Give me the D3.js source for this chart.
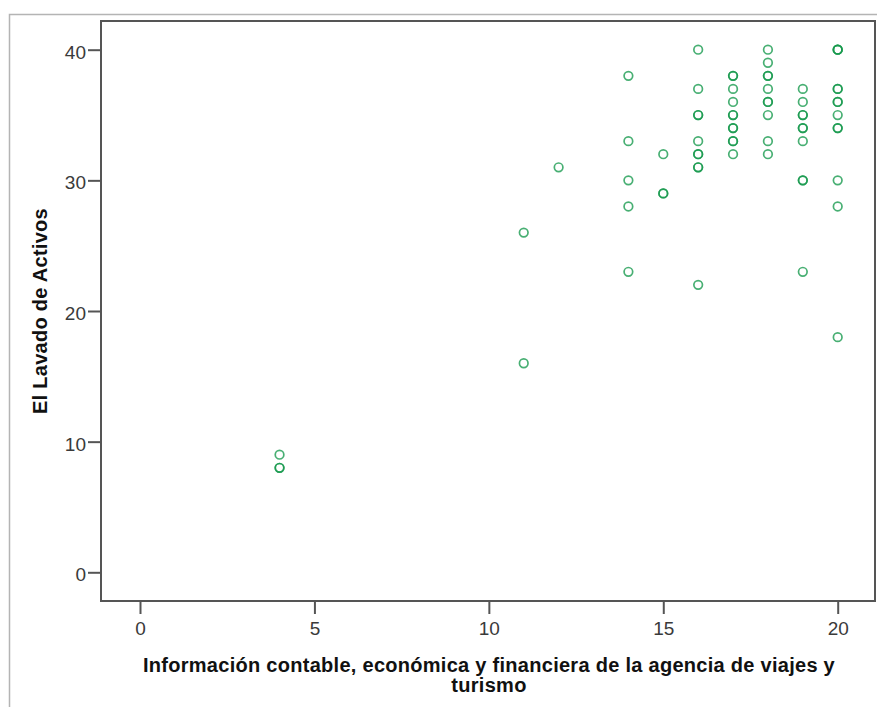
<!DOCTYPE html>
<html><head><meta charset="utf-8">
<script src="https://cdn.jsdelivr.net/npm/d3@7"></script>
<style>body{margin:0;background:#fff}svg{display:block}</style>
</head><body>
<script>
// Data: x = Información contable..., y = El Lavado de Activos (duplicates listed repeatedly)
const xValues = [4,4,4, 11,11, 12, 14,14,14,14,14, 15,15,15,
  16,16,16,16,16,16,16,16,16,16,
  17,17,17,17,17,17,17,17,17,17,17,
  18,18,18,18,18,18,18,18,18,18,
  19,19,19,19,19,19,19,19,19,19,
  20,20,20,20,20,20,20,20,20,20,20,20,20];
const yValues = [9,8,8, 26,16, 31, 38,33,30,28,23, 32,29,29,
  40,37,35,35,33,32,32,31,31,22,
  38,38,37,36,35,35,34,34,33,33,32,
  40,39,38,38,37,36,36,35,33,32,
  37,36,35,35,34,34,33,30,30,23,
  40,40,40,37,37,36,36,35,34,34,30,28,18];
const xTicks = [0,5,10,15,20];
const yTicks = [0,10,20,30,40];
const xTitleLines = ["Información contable, económica y financiera de la agencia de viajes y","turismo"];
const yTitle = "El Lavado de Activos";

const W = 877, H = 707;
const svg = d3.select("body").append("svg").attr("width", W).attr("height", H);

// outer frame
svg.append("rect").attr("x", 9.5).attr("y", 14.5).attr("width", 900).attr("height", 720)
  .attr("fill", "none").attr("stroke", "#b4b4b4").attr("stroke-width", 1.5);

const plot = {left: 101, top: 21, right: 875, bottom: 601};
const x = d3.scaleLinear().domain([0, 20]).range([140, 837.7]);
const y = d3.scaleLinear().domain([0, 40]).range([572.3, 49.7]);

// plot frame
svg.append("rect").attr("x", plot.left).attr("y", plot.top)
  .attr("width", plot.right - plot.left).attr("height", plot.bottom - plot.top)
  .attr("fill", "none").attr("stroke", "#555").attr("stroke-width", 2);

const font = "'Liberation Sans', Arial, sans-serif";

const yAxis = svg.append("g").attr("transform", `translate(${plot.left},0)`)
  .call(d3.axisLeft(y).tickValues(yTicks).tickSize(13).tickPadding(2));
const xAxis = svg.append("g").attr("transform", `translate(0,${plot.bottom})`)
  .call(d3.axisBottom(x).tickValues(xTicks).tickSize(13).tickPadding(8));
[xAxis, yAxis].forEach(a => {
  a.select(".domain").remove();
  a.selectAll(".tick line").attr("stroke", "#555").attr("stroke-width", 2);
  a.selectAll(".tick text").attr("fill", "#3a3a3a").style("font-family", font).style("font-size", "19px");
});
yAxis.selectAll(".tick text").attr("dy", "0.45em");

// points
svg.append("g").selectAll("circle").data(xValues.map((v, i) => [v, yValues[i]]))
  .join("circle")
  .attr("cx", d => x(d[0])).attr("cy", d => y(d[1])).attr("r", 4.3)
  .attr("fill", "none").attr("stroke", "#15994c").attr("stroke-opacity", 0.78).attr("stroke-width", 1.7);

// titles
svg.append("text").attr("text-anchor", "middle")
  .style("font-family", font).style("font-size", "20px").style("font-weight", "bold")
  .style("letter-spacing", "0.28px").attr("fill", "#111")
  .selectAll("tspan").data(xTitleLines).join("tspan")
  .attr("x", 489).attr("y", (d, i) => 672 + i * 20).text(d => d);

svg.append("text").attr("transform", "translate(47,311) rotate(-90)").attr("text-anchor", "middle")
  .style("font-family", font).style("font-size", "20px").style("font-weight", "bold")
  .style("letter-spacing", "0.28px").attr("fill", "#111")
  .text(yTitle);
</script>
</body></html>
